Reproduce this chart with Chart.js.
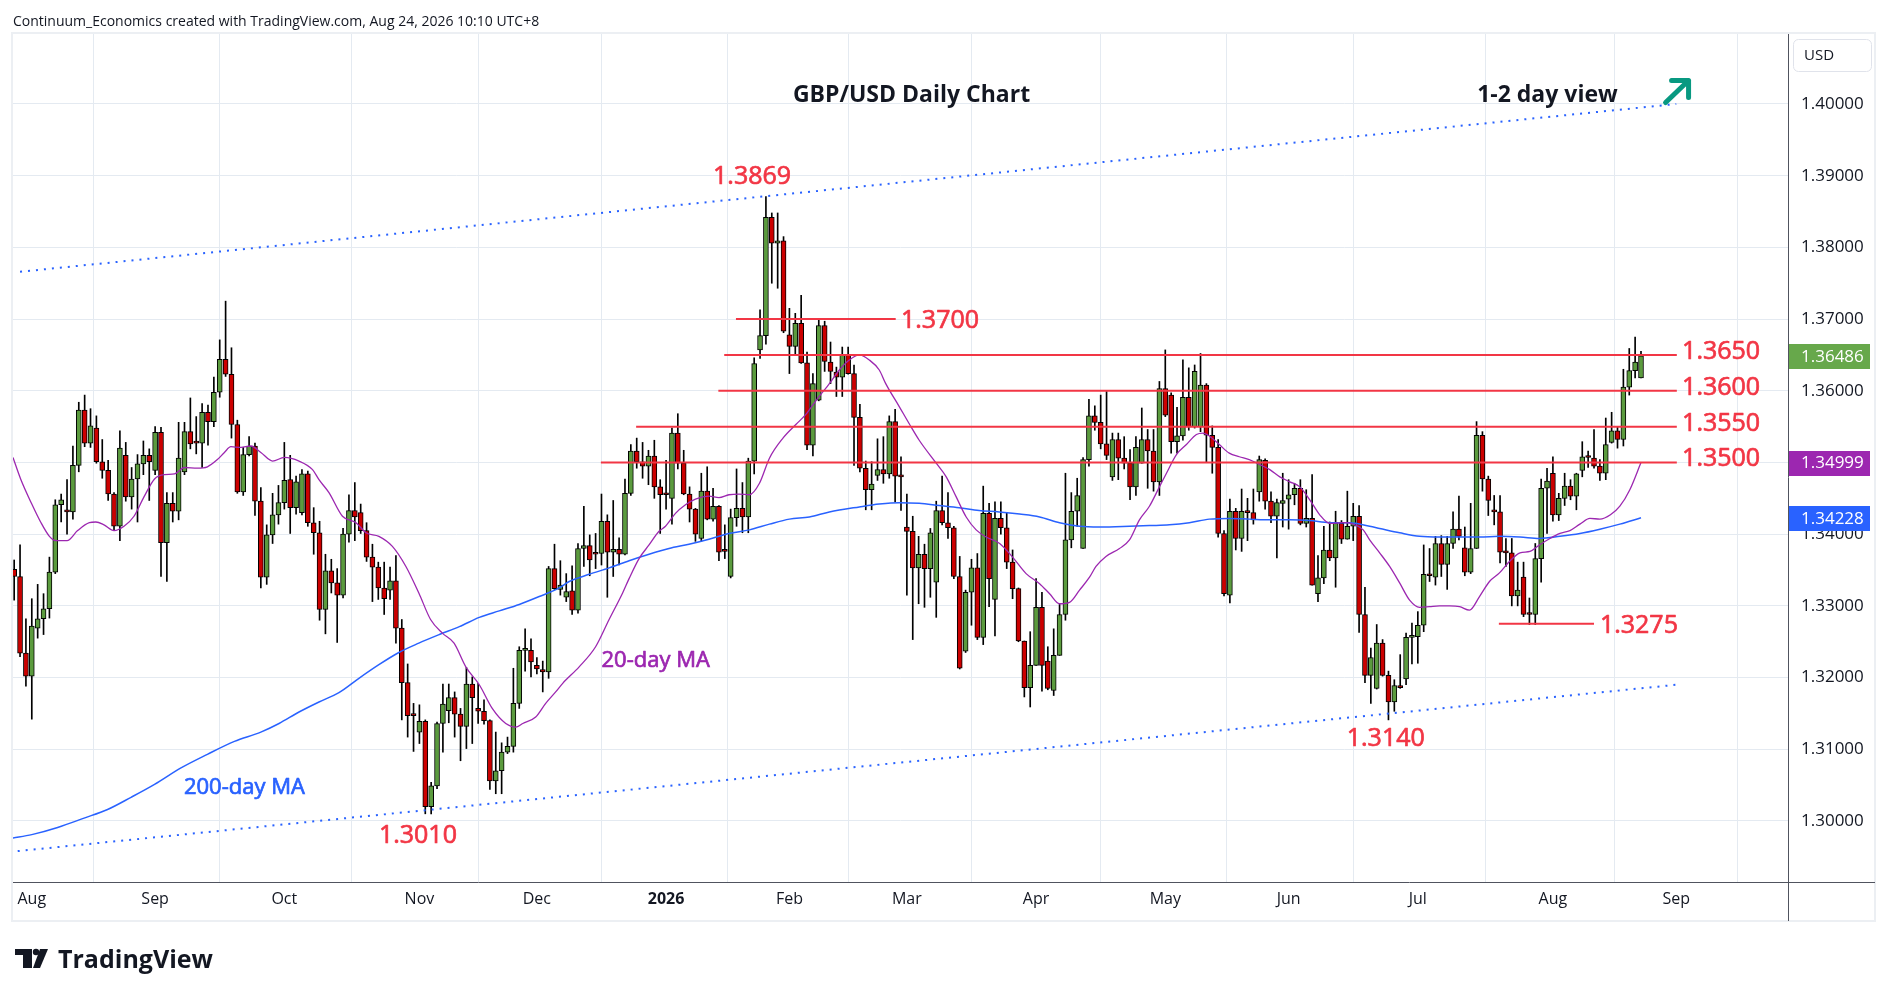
<!DOCTYPE html>
<html>
<head>
<meta charset="utf-8">
<title>GBP/USD Daily Chart</title>
<script src="https://cdn.jsdelivr.net/npm/chart.js@4.4.1/dist/chart.umd.min.js"></script>
<style>
html, body { margin: 0; padding: 0; background: #ffffff; }
#wrap { position: relative; width: 1888px; height: 996px; }
</style>
</head>
<body>
<div id="wrap"><canvas id="chart" width="1888" height="996"></canvas></div>
<script>
var FONT = '"Open Sans", "Noto Sans", sans-serif';
var RED = "#f23645";
var BLUE = "#2962ff";
var PURPLE = "#9c27b0";

// one bar per trading day, bar 0 = 29 Jul 2025, last bar = 24 Aug 2026
var opens = [1.3351,1.3341,1.3234,1.3202,1.3269,1.3282,1.3296,1.3347,1.3441,1.3434,
1.3431,1.3496,1.3573,1.3527,1.3548,1.3501,1.3489,1.3456,1.3411,1.3510,
1.3452,1.3477,1.3498,1.3510,1.3489,1.3542,1.3388,1.3443,1.3432,1.3487,
1.3543,1.3528,1.3527,1.3570,1.3557,1.3598,1.3644,1.3623,1.3553,1.3459,
1.3511,1.3523,1.3446,1.3340,1.3399,1.3427,1.3444,1.3476,1.3437,1.3430,
1.3484,1.3416,1.3402,1.3295,1.3349,1.3332,1.3315,1.3400,1.3433,1.3430,
1.3405,1.3368,1.3354,1.3325,1.3322,1.3335,1.3269,1.3193,1.3148,1.3124,
1.3139,1.3020,1.3049,1.3136,1.3154,1.3172,1.3149,1.3132,1.3191,1.3157,
1.3153,1.3140,1.3056,1.3070,1.3096,1.3104,1.3164,1.3238,1.3238,1.3217,
1.3211,1.3208,1.3352,1.3323,1.3312,1.3321,1.3294,1.3380,1.3384,1.3373,
1.3373,1.3418,1.3375,1.3379,1.3372,1.3457,1.3516,1.3501,1.3495,1.3509,
1.3466,1.3457,1.3450,1.3541,1.3499,1.3456,1.3435,1.3394,1.3460,1.3421,
1.3439,1.3377,1.3341,1.3423,1.3436,1.3424,1.3502,1.3657,1.3677,1.3842,
1.3806,1.3809,1.3678,1.3662,1.3694,1.3639,1.3524,1.3587,1.3691,1.3640,
1.3626,1.3619,1.3651,1.3624,1.3563,1.3492,1.3462,1.3482,1.3490,1.3484,
1.3557,1.3481,1.3410,1.3404,1.3353,1.3372,1.3352,1.3333,1.3433,1.3416,
1.3409,1.3341,1.3237,1.3319,1.3353,1.3256,1.3429,1.3309,1.3422,1.3409,
1.3361,1.3324,1.3251,1.3186,1.3217,1.3298,1.3223,1.3182,1.3231,1.3288,
1.3392,1.3432,1.3380,1.3504,1.3565,1.3556,1.3526,1.3480,1.3532,1.3506,
1.3499,1.3466,1.3499,1.3532,1.3516,1.3473,1.3603,1.3594,1.3529,1.3537,
1.3591,1.3550,1.3550,1.3608,1.3538,1.3521,1.3401,1.3315,1.3432,1.3394,
1.3432,1.3430,1.3459,1.3503,1.3446,1.3425,1.3443,1.3449,1.3455,1.3464,
1.3415,1.3422,1.3317,1.3339,1.3378,1.3367,1.3415,1.3393,1.3411,1.3425,
1.3288,1.3203,1.3185,1.3248,1.3203,1.3166,1.3189,1.3198,1.3256,1.3257,
1.3273,1.3344,1.3340,1.3387,1.3358,1.3387,1.3407,1.3381,1.3347,1.3380,
1.3538,1.3477,1.3433,1.3431,1.3375,1.3374,1.3314,1.3340,1.3289,1.3288,
1.3366,1.3464,1.3485,1.3427,1.3450,1.3467,1.3453,1.3489,1.3508,1.3506,
1.3495,1.3485,1.3528,1.3544,1.3532,1.3605,1.3628,1.3618];

var highs = [1.3364,1.3385,1.3282,1.3310,1.3330,1.3317,1.3368,1.3448,1.3456,1.3476,
1.3523,1.3584,1.3594,1.3575,1.3565,1.3532,1.3503,1.3458,1.3544,1.3528,
1.3493,1.3511,1.3530,1.3519,1.3550,1.3549,1.3458,1.3458,1.3556,1.3556,
1.3590,1.3564,1.3582,1.3580,1.3619,1.3671,1.3725,1.3660,1.3559,1.3521,
1.3536,1.3527,1.3465,1.3413,1.3457,1.3468,1.3528,1.3510,1.3481,1.3490,
1.3488,1.3437,1.3418,1.3372,1.3365,1.3352,1.3408,1.3455,1.3472,1.3442,
1.3416,1.3386,1.3361,1.3361,1.3354,1.3370,1.3281,1.3219,1.3164,1.3162,
1.3141,1.3054,1.3138,1.3191,1.3191,1.3180,1.3157,1.3214,1.3201,1.3192,
1.3169,1.3141,1.3124,1.3109,1.3117,1.3213,1.3243,1.3268,1.3254,1.3228,
1.3223,1.3355,1.3386,1.3363,1.3345,1.3356,1.3387,1.3439,1.3399,1.3401,
1.3456,1.3427,1.3447,1.3395,1.3477,1.3525,1.3534,1.3528,1.3517,1.3531,
1.3476,1.3503,1.3548,1.3568,1.3517,1.3466,1.3436,1.3485,1.3494,1.3464,
1.3440,1.3413,1.3435,1.3491,1.3472,1.3506,1.3646,1.3713,1.3871,1.3848,
1.3848,1.3815,1.3715,1.3708,1.3733,1.3654,1.3624,1.3701,1.3697,1.3668,
1.3633,1.3661,1.3661,1.3636,1.3581,1.3502,1.3501,1.3533,1.3536,1.3565,
1.3574,1.3508,1.3456,1.3425,1.3397,1.3386,1.3408,1.3446,1.3481,1.3458,
1.3411,1.3369,1.3322,1.3365,1.3373,1.3467,1.3443,1.3445,1.3445,1.3430,
1.3378,1.3325,1.3251,1.3264,1.3338,1.3319,1.3243,1.3268,1.3302,1.3485,
1.3458,1.3478,1.3507,1.3588,1.3579,1.3594,1.3599,1.3541,1.3541,1.3536,
1.3518,1.3536,1.3576,1.3546,1.3546,1.3613,1.3657,1.3597,1.3577,1.3643,
1.3632,1.3636,1.3652,1.3610,1.3551,1.3532,1.3405,1.3449,1.3436,1.3463,
1.3450,1.3463,1.3509,1.3505,1.3459,1.3449,1.3485,1.3476,1.3471,1.3476,
1.3462,1.3483,1.3370,1.3411,1.3417,1.3432,1.3419,1.3460,1.3443,1.3440,
1.3326,1.3241,1.3274,1.3253,1.3209,1.3197,1.3232,1.3262,1.3276,1.3292,
1.3385,1.3380,1.3397,1.3398,1.3397,1.3431,1.3453,1.3410,1.3443,1.3557,
1.3543,1.3481,1.3454,1.3454,1.3394,1.3394,1.3361,1.3361,1.3311,1.3387,
1.3477,1.3492,1.3508,1.3457,1.3485,1.3476,1.3485,1.3529,1.3516,1.3546,
1.3504,1.3562,1.3570,1.3550,1.3630,1.3659,1.3675,1.3655];

var lows = [1.3308,1.3229,1.3188,1.3142,1.3255,1.3260,1.3283,1.3345,1.3417,1.3400,
1.3421,1.3487,1.3522,1.3521,1.3499,1.3478,1.3447,1.3406,1.3391,1.3446,
1.3435,1.3417,1.3483,1.3447,1.3483,1.3341,1.3334,1.3417,1.3420,1.3483,
1.3519,1.3512,1.3493,1.3524,1.3550,1.3591,1.3620,1.3534,1.3457,1.3454,
1.3509,1.3426,1.3325,1.3330,1.3387,1.3414,1.3435,1.3401,1.3428,1.3427,
1.3411,1.3372,1.3280,1.3261,1.3318,1.3249,1.3311,1.3389,1.3391,1.3401,
1.3362,1.3306,1.3309,1.3288,1.3309,1.3248,1.3141,1.3117,1.3097,1.3108,
1.3010,1.3010,1.3045,1.3096,1.3137,1.3117,1.3084,1.3101,1.3108,1.3136,
1.3135,1.3044,1.3038,1.3038,1.3094,1.3096,1.3157,1.3209,1.3201,1.3205,
1.3180,1.3199,1.3323,1.3315,1.3306,1.3288,1.3290,1.3355,1.3342,1.3352,
1.3357,1.3312,1.3341,1.3357,1.3371,1.3454,1.3492,1.3478,1.3469,1.3450,
1.3401,1.3435,1.3414,1.3491,1.3455,1.3417,1.3390,1.3390,1.3420,1.3418,
1.3363,1.3366,1.3339,1.3411,1.3402,1.3402,1.3484,1.3645,1.3665,1.3750,
1.3743,1.3681,1.3624,1.3651,1.3638,1.3518,1.3509,1.3586,1.3627,1.3610,
1.3592,1.3592,1.3623,1.3496,1.3487,1.3434,1.3434,1.3475,1.3471,1.3478,
1.3445,1.3433,1.3315,1.3253,1.3303,1.3298,1.3312,1.3284,1.3413,1.3394,
1.3338,1.3212,1.3235,1.3273,1.3253,1.3246,1.3299,1.3258,1.3400,1.3352,
1.3310,1.3250,1.3173,1.3159,1.3217,1.3181,1.3183,1.3175,1.3231,1.3280,
1.3381,1.3411,1.3380,1.3495,1.3545,1.3519,1.3504,1.3475,1.3476,1.3491,
1.3448,1.3454,1.3499,1.3464,1.3460,1.3454,1.3564,1.3513,1.3513,1.3531,
1.3545,1.3548,1.3543,1.3500,1.3485,1.3396,1.3314,1.3304,1.3378,1.3376,
1.3391,1.3414,1.3446,1.3435,1.3416,1.3367,1.3410,1.3407,1.3441,1.3413,
1.3410,1.3329,1.3306,1.3331,1.3363,1.3326,1.3387,1.3393,1.3391,1.3263,
1.3193,1.3164,1.3184,1.3202,1.3141,1.3153,1.3185,1.3190,1.3219,1.3220,
1.3264,1.3334,1.3329,1.3341,1.3323,1.3380,1.3392,1.3342,1.3345,1.3380,
1.3460,1.3426,1.3413,1.3360,1.3355,1.3300,1.3300,1.3285,1.3274,1.3274,
1.3333,1.3401,1.3418,1.3419,1.3440,1.3448,1.3434,1.3480,1.3493,1.3492,
1.3475,1.3476,1.3527,1.3520,1.3523,1.3594,1.3618,1.3618];

var closes = [1.3341,1.3234,1.3202,1.3272,1.3282,1.3296,1.3347,1.3441,1.3448,1.3431,
1.3496,1.3573,1.3527,1.3551,1.3501,1.3489,1.3456,1.3411,1.3520,1.3452,
1.3477,1.3498,1.3510,1.3501,1.3542,1.3388,1.3443,1.3432,1.3506,1.3543,
1.3526,1.3527,1.3570,1.3557,1.3598,1.3644,1.3623,1.3553,1.3459,1.3511,
1.3523,1.3446,1.3340,1.3399,1.3427,1.3444,1.3475,1.3437,1.3473,1.3484,
1.3416,1.3402,1.3295,1.3349,1.3332,1.3315,1.3400,1.3433,1.3424,1.3405,
1.3368,1.3354,1.3325,1.3310,1.3335,1.3269,1.3193,1.3147,1.3147,1.3139,
1.3020,1.3049,1.3136,1.3163,1.3172,1.3149,1.3132,1.3191,1.3172,1.3153,
1.3140,1.3056,1.3070,1.3096,1.3104,1.3164,1.3238,1.3239,1.3222,1.3212,
1.3208,1.3352,1.3324,1.3329,1.3320,1.3294,1.3380,1.3384,1.3364,1.3372,
1.3418,1.3375,1.3379,1.3372,1.3457,1.3516,1.3501,1.3495,1.3509,1.3466,
1.3455,1.3455,1.3541,1.3499,1.3456,1.3435,1.3400,1.3460,1.3421,1.3439,
1.3375,1.3376,1.3423,1.3436,1.3424,1.3502,1.3638,1.3677,1.3842,1.3806,
1.3809,1.3683,1.3662,1.3694,1.3639,1.3524,1.3610,1.3691,1.3641,1.3627,
1.3619,1.3651,1.3624,1.3563,1.3492,1.3462,1.3470,1.3490,1.3484,1.3557,
1.3481,1.3480,1.3404,1.3353,1.3372,1.3352,1.3402,1.3433,1.3416,1.3409,
1.3341,1.3213,1.3319,1.3353,1.3256,1.3429,1.3338,1.3422,1.3409,1.3361,
1.3324,1.3251,1.3186,1.3217,1.3298,1.3217,1.3185,1.3231,1.3288,1.3392,
1.3432,1.3454,1.3504,1.3565,1.3556,1.3526,1.3510,1.3532,1.3506,1.3499,
1.3466,1.3521,1.3532,1.3516,1.3473,1.3603,1.3566,1.3529,1.3537,1.3591,
1.3550,1.3627,1.3608,1.3538,1.3521,1.3401,1.3317,1.3432,1.3394,1.3432,
1.3430,1.3420,1.3504,1.3446,1.3425,1.3444,1.3447,1.3455,1.3464,1.3415,
1.3422,1.3329,1.3339,1.3378,1.3367,1.3415,1.3393,1.3411,1.3425,1.3288,
1.3203,1.3228,1.3248,1.3203,1.3166,1.3189,1.3186,1.3256,1.3257,1.3273,
1.3344,1.3342,1.3387,1.3358,1.3387,1.3407,1.3397,1.3347,1.3380,1.3538,
1.3477,1.3447,1.3431,1.3375,1.3374,1.3314,1.3322,1.3288,1.3288,1.3366,
1.3464,1.3474,1.3427,1.3450,1.3467,1.3453,1.3484,1.3508,1.3507,1.3495,
1.3485,1.3525,1.3544,1.3532,1.3605,1.3628,1.3640,1.36486];

// moving averages as [bar, value]
var ma20 = [[-0.2,1.3507],[1.1,1.3477],[3,1.3442],[4.5,1.3417],[6,1.3397],[7.1,1.3391],[9,1.3391],[10.8,1.3405],[12.8,1.3416],[13.9,1.3417],
[15.3,1.3413],[17,1.3405],[18.7,1.3411],[20.4,1.3425],[22.1,1.3452],[23.9,1.3477],[25.6,1.3483],[27.3,1.3484],[29,1.3493],[31.2,1.3492],
[32.9,1.3494],[34.6,1.3504],[35.8,1.3514],[36.9,1.3522],[38.6,1.3521],[40.3,1.3523],[42,1.3514],[44,1.3502],[46,1.3507],[48.5,1.3502],
[50.8,1.3490],[51.9,1.3476],[53.6,1.3458],[55.9,1.3425],[58.2,1.3416],[59.9,1.3402],[62.1,1.3397],[64.4,1.3383],[66.7,1.3355],[68.9,1.3318],
[70.9,1.3281],[72.9,1.3262],[74.9,1.3248],[76.9,1.3215],[79.2,1.3190],[81.4,1.3157],[83.7,1.3136],[85.4,1.3131],[86.6,1.3136],[88.8,1.3145],
[90.5,1.3164],[92.2,1.3180],[93.4,1.3192],[96.2,1.3215],[99,1.3243],[101.3,1.3281],[103.6,1.3318],[104.7,1.3338],[106.4,1.3366],[108.1,1.3385],
[109.8,1.3404],[110.9,1.3411],[112.6,1.3429],[114.3,1.3441],[116,1.3449],[118.3,1.3453],[120,1.3451],[121.7,1.3455],[123.4,1.3456],[125.2,1.3455],
[126.9,1.3471],[128.6,1.3506],[130.9,1.3534],[133.1,1.3553],[134.8,1.3567],[136.5,1.3586],[138.8,1.3610],[140.5,1.3629],[142.2,1.3643],[143.9,1.3650],
[145.6,1.3643],[147.3,1.3629],[148.4,1.3610],[150.7,1.3578],[152.4,1.3554],[154.1,1.3531],[157,1.3499],[158.7,1.3480],[160.4,1.3452],[162.1,1.3424],
[163.8,1.3406],[165.5,1.3396],[167.8,1.3387],[170,1.3368],[172.3,1.3345],[174.6,1.3331],[176.3,1.3317],[178,1.3303],[179.7,1.3305],[181.4,1.3322],
[183.1,1.3340],[184.2,1.3355],[185.9,1.3369],[188.2,1.3380],[189.9,1.3392],[191.6,1.3420],[193.3,1.3439],[195,1.3466],[196.2,1.3485],[197.9,1.3511],
[199.6,1.3525],[201.3,1.3539],[202.4,1.3541],[203.5,1.3537],[205.2,1.3525],[206.9,1.3513],[208.6,1.3508],[210.3,1.3504],[212.1,1.3497],[213.8,1.3490],
[215.5,1.3480],[217.2,1.3473],[218.9,1.3466],[220.6,1.3448],[222.3,1.3427],[224,1.3415],[226.3,1.3416],[228,1.3414],[229.7,1.3406],[230.8,1.3392],
[232.5,1.3374],[234.2,1.3355],[235.9,1.3332],[237.6,1.3308],[239.3,1.3298],[241,1.3299],[242.7,1.3300],[244.4,1.3300],[246.1,1.3299],[247.8,1.3294],
[249.5,1.3313],[251.2,1.3334],[252.9,1.3346],[254.6,1.3362],[256.4,1.3374],[258.1,1.3376],[259.7,1.3385],[261.5,1.3394],[263.2,1.3401],[264.9,1.3405],
[266.6,1.3414],[268.3,1.3422],[270,1.3421],[271.8,1.3427],[273.4,1.3439],[275.1,1.3462],[277,1.34999]];

var ma200 = [[-0.3,1.2976],[3,1.2981],[7.4,1.2991],[11.9,1.3004],[15.9,1.3016],[19.9,1.3033],[23.9,1.3051],[28.4,1.3074],[32.9,1.3093],[37.5,1.3111],
[42,1.3124],[45.1,1.3136],[48.5,1.3152],[51.9,1.3166],[55.3,1.3179],[58.7,1.3199],[62.1,1.3218],[65.5,1.3235],[68.9,1.3248],[72.4,1.3260],
[75.8,1.3271],[79.2,1.3284],[82.6,1.3293],[86,1.3302],[89.4,1.3313],[92.8,1.3325],[94.5,1.3334],[97.9,1.3344],[101.3,1.3353],[104.7,1.3363],
[108.1,1.3372],[111.5,1.3380],[114.9,1.3386],[118.3,1.3393],[121.7,1.3401],[125.2,1.3406],[128.6,1.3414],[132,1.3421],[135.4,1.3424],[138.8,1.3431],
[143.9,1.3438],[147.3,1.3442],[150.7,1.3444],[154.1,1.3443],[157.5,1.3440],[160.9,1.3437],[164.3,1.3433],[167.7,1.3431],[171.2,1.3428],[174.6,1.3424],
[178,1.3416],[181.4,1.3411],[184.8,1.3410],[189.9,1.3411],[193.3,1.3412],[196.7,1.3413],[200.1,1.3416],[203.5,1.3421],[206.9,1.3422],[210.3,1.3421],
[213.8,1.3420],[217.2,1.3420],[220.6,1.3419],[224,1.3416],[227.4,1.3416],[230.8,1.3411],[232.5,1.3408],[235.9,1.3402],[239.3,1.3397],[242.7,1.3396],
[246.1,1.3396],[249.5,1.3396],[252.9,1.3397],[256.4,1.3396],[259.7,1.3394],[263.2,1.3397],[266.6,1.3401],[270,1.3407],[273.4,1.3414],[277,1.34228]];

// dotted channel, [bar, price] end points
var channelTop = [[1, 1.3766], [283, 1.4000]];
var channelBottom = [[0.6, 1.2958], [283, 1.3190]];

// horizontal levels
var levelPrices = [1.3700, 1.3650, 1.3600, 1.3550, 1.3500, 1.3275];
var levelFrom = [122.9, 120.9, 119.9, 105.9, 99.9, 252.8];
var levelTo = [150.1, 283.1, 283.1, 283.1, 283.1, 269.0];
var levelLabelBar = [151.0, 284.0, 284.0, 284.0, 284.0, 270.0];

// swing high / low callouts
var calloutText = ["1.3869", "1.3010", "1.3140"];
var calloutBar = [119.0, 62.1, 226.9];
var calloutPrice = [1.38884, 1.29693, 1.31046];

// time axis
var monthTickBar = [3, 24, 46, 69, 89, 111, 132, 152, 174, 196, 217, 239, 262, 283];
var monthTickLabels = ["Aug", "Sep", "Oct", "Nov", "Dec", "2026", "Feb", "Mar", "Apr", "May", "Jun", "Jul", "Aug", "Sep"];
var priceTicks = [1.30, 1.31, 1.32, 1.33, 1.34, 1.35, 1.36, 1.37, 1.38, 1.39, 1.40];

var bars = opens.map(function(o, i) { return i; });
var bodyColors = bars.map(function(i) { return closes[i] >= opens[i] ? "#5b9b3e" : "#cc0000"; });

function pts(arr) {
    return arr.map(function(p) { return {x: p[0], y: p[1]}; });
}

var datasets = [{
    type: "line",
    data: pts(ma20),
    borderColor: PURPLE,
    borderWidth: 1.3,
    pointRadius: 0,
    cubicInterpolationMode: "monotone",
    order: 1
}, {
    type: "line",
    data: pts(ma200),
    borderColor: BLUE,
    borderWidth: 1.5,
    pointRadius: 0,
    cubicInterpolationMode: "monotone",
    order: 1
}, {
    type: "line",
    data: pts(channelTop),
    borderColor: BLUE,
    borderWidth: 2,
    borderDash: [2, 6],
    pointRadius: 0,
    order: 1
}, {
    type: "line",
    data: pts(channelBottom),
    borderColor: BLUE,
    borderWidth: 2,
    borderDash: [2, 6],
    pointRadius: 0,
    order: 1
}];

levelPrices.forEach(function(p, k) {
    datasets.push({
        type: "line",
        data: [{x: levelFrom[k], y: p}, {x: levelTo[k], y: p}],
        borderColor: RED,
        borderWidth: 2,
        pointRadius: 0,
        order: 0
    });
});

datasets.push({
    type: "bar",
    data: bars.map(function(i) { return {x: i, y: [opens[i], closes[i]]}; }),
    backgroundColor: bodyColors,
    borderColor: "#000000",
    borderWidth: 1,
    borderSkipped: false,
    barThickness: 5,
    minBarLength: 2,
    grouped: false,
    order: 2
});
datasets.push({
    type: "bar",
    data: bars.map(function(i) { return {x: i, y: [lows[i], highs[i]]}; }),
    backgroundColor: "#000000",
    barThickness: 1,
    grouped: false,
    order: 3
});

// text drawn with a thin outline in the same colour, a little heavier than regular
function heavyText(c, t, x, y, color) {
    c.fillStyle = color;
    c.strokeStyle = color;
    c.lineWidth = 0.7;
    c.fillText(t, x, y);
    c.strokeText(t, x, y);
}

var decor = {
    id: "decor",
    beforeDraw: function(chart) {
        var c = chart.ctx;
        c.save();
        c.fillStyle = "#ffffff";
        c.fillRect(0, 0, chart.width, chart.height);
        c.restore();
    },
    afterDatasetsDraw: function(chart) {
        var c = chart.ctx, xs = chart.scales.x, ys = chart.scales.y;
        var px = function(v) { return xs.getPixelForValue(v); };
        var py = function(v) { return ys.getPixelForValue(v); };
        c.save();
        c.textAlign = "left";
        c.textBaseline = "alphabetic";
        c.lineJoin = "round";

        // level labels
        c.font = "25px " + FONT;
        var dy = [8.5, 4, 4, 4, 4, 9.5];
        levelPrices.forEach(function(p, k) {
            heavyText(c, p.toFixed(4), px(levelLabelBar[k]), py(p) + dy[k], RED);
        });
        calloutText.forEach(function(t, k) {
            heavyText(c, t, px(calloutBar[k]), py(calloutPrice[k]), RED);
        });

        // moving average names
        c.font = "22px " + FONT;
        heavyText(c, "20-day MA", px(100.0), py(1.32152), PURPLE);
        heavyText(c, "200-day MA", px(28.9), py(1.30376), BLUE);

        // titles
        c.font = "bold 23px " + FONT;
        c.fillStyle = "#131722";
        c.fillText("GBP/USD Daily Chart", px(132.6), py(1.40032));
        c.fillText("1-2 day view", px(249.1), py(1.40032));

        // view arrow
        var ax = px(285.1), ay = py(1.40327);
        c.strokeStyle = "#089981";
        c.lineWidth = 5;
        c.lineCap = "round";
        c.beginPath();
        c.moveTo(ax - 23, ay + 22);
        c.lineTo(ax, ay);
        c.moveTo(ax - 17, ay);
        c.lineTo(ax, ay);
        c.lineTo(ax, ay + 17);
        c.stroke();
        c.restore();
    },
    afterDraw: function(chart) {
        var c = chart.ctx, ys = chart.scales.y, a = chart.chartArea;
        c.save();

        // frame and axis lines
        c.strokeStyle = "#eceff3";
        c.lineWidth = 2;
        c.strokeRect(12, 33, 1863, 888);
        c.strokeStyle = "#50535e";
        c.lineWidth = 1;
        c.beginPath();
        c.moveTo(a.right + 0.5, a.top);
        c.lineTo(a.right + 0.5, 921);
        c.moveTo(a.left, a.bottom + 0.5);
        c.lineTo(1875, a.bottom + 0.5);
        c.stroke();

        // price badges
        var badges = [[closes[closes.length - 1], "#67a84b"], [ma20[ma20.length - 1][1], PURPLE], [ma200[ma200.length - 1][1], BLUE]];
        c.font = "17px " + FONT;
        c.textBaseline = "middle";
        badges.forEach(function(b) {
            var y = ys.getPixelForValue(b[0]);
            c.fillStyle = b[1];
            c.fillRect(a.right + 1, Math.round(y) - 12, 81, 25);
            c.fillStyle = "#ffffff";
            c.fillText(b[0].toFixed(5), a.right + 13, y + 1);
        });

        // currency box
        c.strokeStyle = "#e0e3eb";
        c.fillStyle = "#ffffff";
        c.lineWidth = 1;
        c.beginPath();
        c.roundRect(1793.5, 39.5, 78, 32, 5);
        c.fill();
        c.stroke();
        c.fillStyle = "#131722";
        c.font = "15px " + FONT;
        c.fillText("USD", 1804, 56);

        // header
        c.textBaseline = "alphabetic";
        c.font = "14px " + FONT;
        c.fillText("Continuum_Economics created with TradingView.com, Aug 24, 2026 10:10 UTC+8", 13, 26);

        // logo
        c.fillStyle = "#131722";
        c.fillRect(15, 949, 17, 6);
        c.fillRect(23, 949, 9, 19);
        c.beginPath();
        c.arc(36, 952, 3.2, 0, Math.PI * 2);
        c.fill();
        c.beginPath();
        c.moveTo(40, 949);
        c.lineTo(48, 949);
        c.lineTo(40, 968);
        c.lineTo(33, 968);
        c.closePath();
        c.fill();
        c.font = "bold 25px " + FONT;
        c.fillText("TradingView", 58, 968);
        c.restore();
    }
};

new Chart(document.getElementById("chart").getContext("2d"), {
    type: "bar",
    data: { datasets: datasets },
    options: {
        responsive: false,
        animation: false,
        events: [],
        layout: { padding: { left: 13, top: 34, right: 0, bottom: 75 } },
        plugins: { legend: { display: false }, tooltip: { enabled: false } },
        scales: {
            x: {
                type: "linear",
                min: -0.2,
                max: 302.03,
                offset: false,
                bounds: "data",
                afterBuildTicks: function(s) { s.ticks = monthTickBar.map(function(v) { return {value: v}; }); },
                afterFit: function(s) { s.height = 39; },
                ticks: {
                    autoSkip: false,
                    maxRotation: 0,
                    padding: 8,
                    color: "#131722",
                    font: function(ctx) {
                        var bold = ctx.tick && ctx.tick.value === 111;
                        return { family: FONT, size: 16, weight: bold ? "bold" : "normal" };
                    },
                    callback: function(v, i) { return monthTickLabels[i]; }
                },
                grid: { color: "#e4eaf1", drawTicks: false },
                border: { display: false }
            },
            y: {
                type: "linear",
                position: "right",
                min: 1.29149,
                max: 1.40976,
                bounds: "data",
                afterBuildTicks: function(s) { s.ticks = priceTicks.map(function(v) { return {value: v}; }); },
                afterFit: function(s) { s.width = 100; },
                ticks: {
                    padding: 13,
                    color: "#131722",
                    font: { family: FONT, size: 17 },
                    callback: function(v) { return v.toFixed(5); }
                },
                grid: { color: "#e4eaf1", drawTicks: false },
                border: { display: false }
            }
        }
    },
    plugins: [decor]
});
</script>
</body>
</html>
